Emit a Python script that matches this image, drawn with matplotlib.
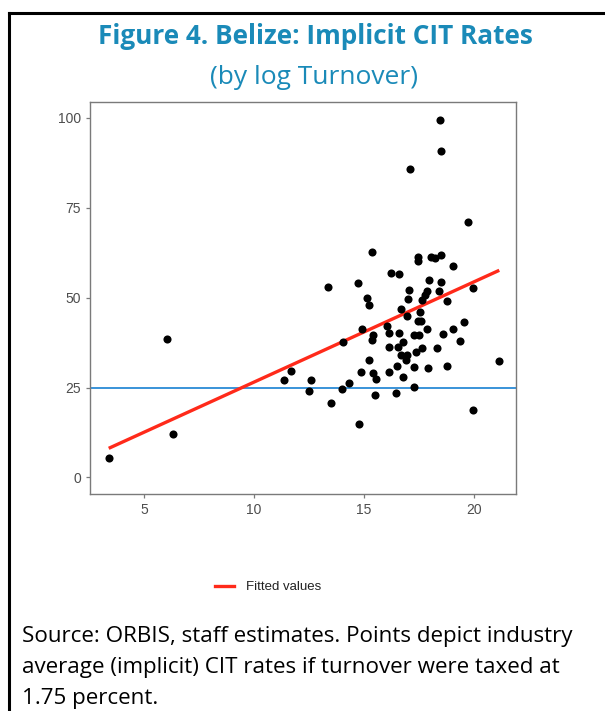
import matplotlib

matplotlib.use("Agg")
import matplotlib.pyplot as plt
from matplotlib.lines import Line2D

# log turnover (x) vs implicit CIT rate (y)
log_turnover = [
    3.40, 6.05, 6.32, 18.45, 18.50, 17.08, 19.73, 15.35, 13.34, 14.71,
    17.45, 17.45, 18.04, 18.22, 18.50, 19.04, 16.22, 16.58, 17.95, 18.50,
    19.96, 17.04, 17.86, 17.77, 17.63, 18.41, 15.12, 15.21, 16.99, 18.77,
    16.67, 17.54, 16.95, 17.45, 17.59, 19.55, 16.04, 14.90, 17.86, 19.04,
    15.40, 15.35, 16.13, 16.58, 17.27, 17.49, 18.59, 19.36, 14.03, 16.76,
    16.13, 16.54, 17.63, 17.36, 18.32, 16.67, 16.95, 16.90, 15.21, 21.14,
    14.85, 15.40, 15.53, 16.13, 16.49, 17.27, 17.90, 18.77, 16.76, 11.38,
    11.66, 12.57, 12.48, 14.30, 13.98, 17.27, 13.48, 15.49, 16.45, 14.76,
    19.96,
]
cit_rate = [
    5.4, 38.4, 12.0, 99.3, 90.9, 85.9, 70.9, 62.6, 52.9, 54.0,
    61.2, 60.1, 61.2, 60.9, 61.75, 58.7, 56.75, 56.5, 54.8, 54.25,
    52.6, 52.0, 51.75, 50.6, 49.25, 51.75, 49.8, 47.9, 49.5, 49.0,
    46.75, 45.9, 44.8, 43.4, 43.4, 43.1, 42.0, 41.2, 41.2, 41.2,
    39.5, 38.1, 40.1, 40.1, 39.5, 39.5, 39.8, 37.9, 37.6, 37.6,
    36.2, 36.2, 35.9, 34.8, 35.9, 34.0, 34.0, 32.6, 32.6, 32.3,
    29.25, 29.0, 27.3, 29.25, 30.9, 30.6, 30.4, 30.9, 27.9, 27.0,
    29.5, 27.0, 24.0, 26.2, 24.5, 25.1, 20.6, 22.9, 23.4, 14.8,
    18.7,
]
fit_x = [3.40, 21.14]
fit_y = [8.1, 57.6]
reference_rate = 25
x_ticks = [5, 10, 15, 20]
y_ticks = [0, 25, 50, 75, 100]

TITLE_COLOR = "#1a8ab8"
GREY = "#4d4d4d"

fig = plt.figure(figsize=(6.05, 7.11), dpi=100)

# document frame (left + top rule)
fig.add_artist(Line2D([9 / 605, 9 / 605], [0, 1 - 13 / 711], color="black", lw=2.2,
                      transform=fig.transFigure, solid_capstyle="projecting"))
fig.add_artist(Line2D([9 / 605, 1], [1 - 13 / 711, 1 - 13 / 711], color="black", lw=2.2,
                      transform=fig.transFigure, solid_capstyle="projecting"))

fig.text(315.5 / 605, 1 - 36 / 711, "Figure 4. Belize: Implicit CIT Rates", ha="center", va="center",
         fontsize=18.8, fontweight="bold", color=TITLE_COLOR, family="Open Sans")
fig.text(313.5 / 605, 1 - 77 / 711, "(by log Turnover)", ha="center", va="center",
         fontsize=19, color=TITLE_COLOR, family="Open Sans")

ax = fig.add_axes([90 / 605, 1 - 494 / 711, (516 - 90) / 605, (494 - 102) / 711])
ax.axhline(reference_rate, color="#2a8ad6", lw=1.3, zorder=1)
ax.plot(fit_x, fit_y, color="#ff2a1a", lw=2.4, zorder=2, solid_capstyle="butt")
ax.scatter(log_turnover, cit_rate, s=34, color="black", zorder=3, linewidths=0)

ax.set_xlim(2.55, 21.9)
ax.set_ylim(-4.6, 104.4)
ax.set_xticks(x_ticks)
ax.set_yticks(y_ticks)
for side in ax.spines.values():
    side.set_color("#7a7a7a")
    side.set_linewidth(1.0)
ax.tick_params(colors="#7a7a7a", labelcolor=GREY, length=3, width=0.9, labelsize=10)
for lab in ax.get_xticklabels() + ax.get_yticklabels():
    lab.set_family("Liberation Sans")

handle = Line2D([], [], color="#ff2a1a", lw=2.4)
fig.legend([handle], ["Fitted values"], loc="center", bbox_to_anchor=(268 / 605, 1 - 587 / 711),
           frameon=False, prop={"family": "Liberation Sans", "size": 9.5}, labelcolor="#222222",
           handlelength=1.4, handletextpad=0.9)

source = ("Source: ORBIS, staff estimates. Points depict industry\n"
          "average (implicit) CIT rates if turnover were taxed at\n"
          "1.75 percent.")
fig.text(22 / 605, 1 - 626 / 711, source, ha="left", va="top", fontsize=16.1,
         family="Open Sans", color="black", linespacing=1.64)

fig.savefig("out.png", dpi=100)
